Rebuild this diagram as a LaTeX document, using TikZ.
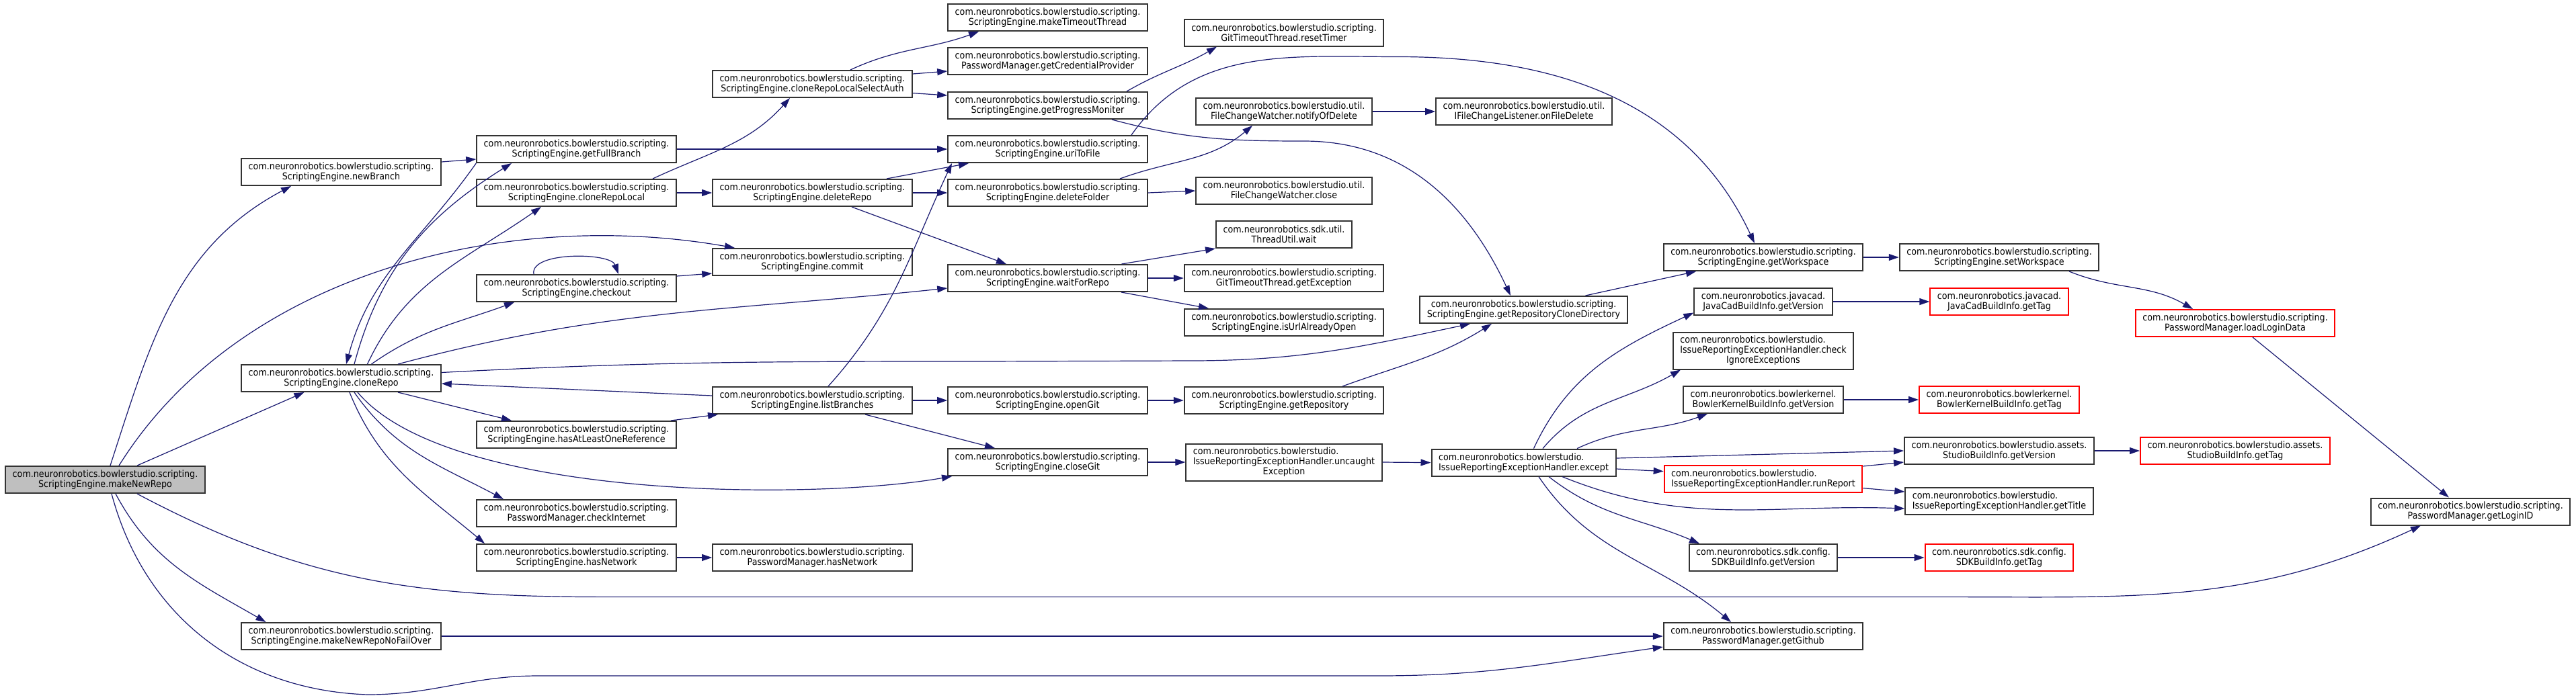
\documentclass[tikz,border=0pt]{standalone}
\usepackage{fontspec}
\setmainfont{DejaVu Sans}[FakeStretch=0.9]
\usetikzlibrary{arrows.meta}
\definecolor{edgeblue}{HTML}{191970}
\definecolor{rootgray}{HTML}{BFBFBF}

\begin{document}
\begin{tikzpicture}[>={Triangle[length=0.15cm,width=0.10cm]},
  box/.style={draw=black!80,line width=0.02cm,fill=white,align=center,inner xsep=0.105cm,inner ysep=0.04cm,minimum height=0.40cm,font=\fontsize{4.02}{4.27}\selectfont},
  redbox/.style={box,draw=red},
  rootbox/.style={box,fill=rootgray},
  call/.style={->,draw=edgeblue,line width=0.012cm}]
\useasboundingbox (0,0) rectangle (38.32,-10.41);
% column 1 and 2
\node[rootbox] (mnr) at (1.565,-7.14) {com.neuronrobotics.bowlerstudio.scripting.\\ScriptingEngine.makeNewRepo};
\node[box] (nb) at (5.075,-2.56) {com.neuronrobotics.bowlerstudio.scripting.\\ScriptingEngine.newBranch};
\node[box] (cr) at (5.075,-5.63) {com.neuronrobotics.bowlerstudio.scripting.\\ScriptingEngine.cloneRepo};
\node[box] (mnrnfo) at (5.075,-9.47) {com.neuronrobotics.bowlerstudio.scripting.\\ScriptingEngine.makeNewRepoNoFailOver};
% column 3
\node[box] (gfb) at (8.575,-2.22) {com.neuronrobotics.bowlerstudio.scripting.\\ScriptingEngine.getFullBranch};
\node[box] (crl) at (8.575,-2.87) {com.neuronrobotics.bowlerstudio.scripting.\\ScriptingEngine.cloneRepoLocal};
\node[box] (co) at (8.575,-4.29) {com.neuronrobotics.bowlerstudio.scripting.\\ScriptingEngine.checkout};
\node[box] (halor) at (8.575,-6.47) {com.neuronrobotics.bowlerstudio.scripting.\\ScriptingEngine.hasAtLeastOneReference};
\node[box] (ci) at (8.575,-7.64) {com.neuronrobotics.bowlerstudio.scripting.\\PasswordManager.checkInternet};
\node[box] (hn) at (8.575,-8.30) {com.neuronrobotics.bowlerstudio.scripting.\\ScriptingEngine.hasNetwork};
% column 4
\node[box] (crlsa) at (12.085,-1.25) {com.neuronrobotics.bowlerstudio.scripting.\\ScriptingEngine.cloneRepoLocalSelectAuth};
\node[box] (dr) at (12.085,-2.87) {com.neuronrobotics.bowlerstudio.scripting.\\ScriptingEngine.deleteRepo};
\node[box] (cm) at (12.085,-3.90) {com.neuronrobotics.bowlerstudio.scripting.\\ScriptingEngine.commit};
\node[box] (lb) at (12.085,-5.96) {com.neuronrobotics.bowlerstudio.scripting.\\ScriptingEngine.listBranches};
\node[box] (pmhn) at (12.085,-8.30) {com.neuronrobotics.bowlerstudio.scripting.\\PasswordManager.hasNetwork};
% column 5
\node[box] (mtt) at (15.585,-0.26) {com.neuronrobotics.bowlerstudio.scripting.\\ScriptingEngine.makeTimeoutThread};
\node[box] (gcp) at (15.585,-0.91) {com.neuronrobotics.bowlerstudio.scripting.\\PasswordManager.getCredentialProvider};
\node[box] (gpm) at (15.585,-1.57) {com.neuronrobotics.bowlerstudio.scripting.\\ScriptingEngine.getProgressMoniter};
\node[box] (utf) at (15.585,-2.22) {com.neuronrobotics.bowlerstudio.scripting.\\ScriptingEngine.uriToFile};
\node[box] (df) at (15.585,-2.87) {com.neuronrobotics.bowlerstudio.scripting.\\ScriptingEngine.deleteFolder};
\node[box] (wfr) at (15.585,-4.14) {com.neuronrobotics.bowlerstudio.scripting.\\ScriptingEngine.waitForRepo};
\node[box] (og) at (15.585,-5.96) {com.neuronrobotics.bowlerstudio.scripting.\\ScriptingEngine.openGit};
\node[box] (cg) at (15.585,-6.88) {com.neuronrobotics.bowlerstudio.scripting.\\ScriptingEngine.closeGit};
% column 6
\node[box] (rt) at (19.10,-0.486) {com.neuronrobotics.bowlerstudio.scripting.\\GitTimeoutThread.resetTimer};
\node[box] (nod) at (19.10,-1.66) {com.neuronrobotics.bowlerstudio.util.\\FileChangeWatcher.notifyOfDelete};
\node[box] (fcwc) at (19.10,-2.84) {com.neuronrobotics.bowlerstudio.util.\\FileChangeWatcher.close};
\node[box] (tuw) at (19.10,-3.49) {com.neuronrobotics.sdk.util.\\ThreadUtil.wait};
\node[box] (gte) at (19.10,-4.14) {com.neuronrobotics.bowlerstudio.scripting.\\GitTimeoutThread.getException};
\node[box] (iuao) at (19.10,-4.80) {com.neuronrobotics.bowlerstudio.scripting.\\ScriptingEngine.isUrlAlreadyOpen};
\node[box] (gr) at (19.10,-5.96) {com.neuronrobotics.bowlerstudio.scripting.\\ScriptingEngine.getRepository};
\node[box,align=left,minimum height=0.55cm] (ue) at (19.10,-6.88) {com.neuronrobotics.bowlerstudio.\\IssueReportingExceptionHandler.uncaught\\\hfill Exception\hfill\mbox{}};
% column 7
\node[box] (ofd) at (22.67,-1.66) {com.neuronrobotics.bowlerstudio.util.\\IFileChangeListener.onFileDelete};
\node[box] (grcd) at (22.665,-4.61) {com.neuronrobotics.bowlerstudio.scripting.\\ScriptingEngine.getRepositoryCloneDirectory};
\node[box,align=left] (exc) at (22.665,-6.886) {com.neuronrobotics.bowlerstudio.\\IssueReportingExceptionHandler.except};
% column 8
\node[box] (gw) at (26.23,-3.83) {com.neuronrobotics.bowlerstudio.scripting.\\ScriptingEngine.getWorkspace};
\node[box] (jcv) at (26.23,-4.49) {com.neuronrobotics.javacad.\\JavaCadBuildInfo.getVersion};
\node[box,align=left,minimum height=0.55cm] (cie) at (26.23,-5.22) {com.neuronrobotics.bowlerstudio.\\IssueReportingExceptionHandler.check\\\hfill IgnoreExceptions\hfill\mbox{}};
\node[box] (bkv) at (26.23,-5.95) {com.neuronrobotics.bowlerkernel.\\BowlerKernelBuildInfo.getVersion};
\node[redbox,align=left] (rr) at (26.23,-7.126) {com.neuronrobotics.bowlerstudio.\\IssueReportingExceptionHandler.runReport};
\node[box] (sdkv) at (26.23,-8.30) {com.neuronrobotics.sdk.config.\\SDKBuildInfo.getVersion};
\node[box] (gg) at (26.23,-9.47) {com.neuronrobotics.bowlerstudio.scripting.\\PasswordManager.getGithub};
% column 9 and beyond
\node[box] (sw) at (29.74,-3.83) {com.neuronrobotics.bowlerstudio.scripting.\\ScriptingEngine.setWorkspace};
\node[redbox] (jct) at (29.74,-4.49) {com.neuronrobotics.javacad.\\JavaCadBuildInfo.getTag};
\node[redbox] (bkt) at (29.74,-5.95) {com.neuronrobotics.bowlerkernel.\\BowlerKernelBuildInfo.getTag};
\node[box] (sbv) at (29.74,-6.71) {com.neuronrobotics.bowlerstudio.assets.\\StudioBuildInfo.getVersion};
\node[box,align=left] (gt) at (29.74,-7.46) {com.neuronrobotics.bowlerstudio.\\IssueReportingExceptionHandler.getTitle};
\node[redbox] (sdkt) at (29.74,-8.30) {com.neuronrobotics.sdk.config.\\SDKBuildInfo.getTag};
\node[redbox] (lld) at (33.25,-4.81) {com.neuronrobotics.bowlerstudio.scripting.\\PasswordManager.loadLoginData};
\node[redbox] (sbt) at (33.25,-6.71) {com.neuronrobotics.bowlerstudio.assets.\\StudioBuildInfo.getTag};
\node[box] (gli) at (36.75,-7.615) {com.neuronrobotics.bowlerstudio.scripting.\\PasswordManager.getLoginID};
% calls from makeNewRepo
\draw[call] ([xshift=0.075cm]mnr.north) to[out=72,in=208] ([xshift=-0.745cm]nb.south);
\draw[call] ([xshift=0.475cm]mnr.north) -- ([xshift=-0.55cm]cr.south);
\draw[call] ([xshift=0.205cm]mnr.north) to[out=58,in=170,looseness=0.9] ([xshift=-1.155cm]cm.north);
\draw[call] ([xshift=0.155cm]mnr.south) to[out=-62,in=150] ([xshift=-1.12cm]mnrnfo.north);
\draw[call] ([xshift=0.475cm]mnr.south) to[out=-28,in=180] (9.0,-8.886) -- (29.0,-8.886) to[out=0,in=205] ([xshift=-0.74cm]gli.south);
\draw[call] ([xshift=0.095cm]mnr.south) to[out=-75,in=178] (5.47,-10.34) to[out=0,in=180] (8.0,-10.06) -- (20.5,-10.06) to[out=0,in=188] ([yshift=-0.16cm]gg.west);
\draw[call] (mnrnfo.east) -- (gg.west);
\draw[call] ([yshift=0.15cm]nb.east) -- ([yshift=-0.15cm]gfb.west);
% calls from cloneRepo
\draw[call] ([xshift=0.195cm]cr.north) to[out=75,in=212] ([xshift=-0.965cm]gfb.south);
\draw[call] (gfb.south west) to[out=-125,in=75] ([xshift=0.075cm]cr.north);
\draw[call] ([xshift=0.39cm]cr.north) to[out=65,in=215] ([xshift=-0.525cm]crl.south);
\draw[call] ([xshift=0.45cm]cr.north) to[out=35,in=200] ([xshift=-0.925cm]co.south);
\draw[call] ([xshift=0.845cm]cr.north) to[out=15,in=186] ([yshift=-0.15cm]wfr.west);
\draw[call] ([yshift=0.085cm]cr.east) to[out=3,in=180] (14.6,-5.38) -- (17.7,-5.37) to[out=0,in=192] ([xshift=-0.795cm]grcd.south);
\draw[call] ([yshift=0.07cm]lb.west) -- ([yshift=-0.08cm]cr.east);
\draw[call] ([xshift=0.845cm]cr.south) -- ([xshift=-0.965cm]halor.north);
\draw[call] ([xshift=0.245cm]cr.south) to[out=-50,in=190,looseness=0.6] ([xshift=-1.425cm]cg.south);
\draw[call] ([xshift=0.195cm]cr.south) to[out=-55,in=152] ([xshift=-1.085cm]ci.north);
\draw[call] ([xshift=0.125cm]cr.south) to[out=-68,in=140] ([xshift=-1.365cm]hn.north);
% middle columns
\draw[call] (gfb.east) -- (utf.west);
\draw[call] ([xshift=1.135cm]crl.north) to[out=25,in=228] ([xshift=-0.335cm]crlsa.south);
\draw[call] (crl.east) -- (dr.west);
\draw[call] ([xshift=0.565cm]crlsa.north) to[out=25,in=200] ([xshift=-1.025cm]mtt.south);
\draw[call] ([yshift=0.15cm]crlsa.east) -- ([yshift=-0.15cm]gcp.west);
\draw[call] ([yshift=-0.136cm]crlsa.east) -- ([yshift=0.15cm]gpm.west);
\draw[call] ([xshift=1.175cm]gpm.north) to[out=30,in=210] ([xshift=-1.0cm]rt.south);
\draw[call] ([xshift=0.955cm]gpm.south) to[out=-15,in=180] (19.4,-2.10) to[out=0,in=115] ([xshift=-0.195cm]grcd.north);
\draw[call] ([xshift=1.245cm]utf.north) to[out=55,in=180] (20.8,-0.845) to[out=0,in=115] ([xshift=-0.13cm]gw.north);
\draw[call] ([xshift=1.105cm]dr.north) -- ([xshift=-1.175cm]utf.south);
\draw[call] (dr.east) -- (df.west);
\draw[call] ([xshift=0.585cm]dr.south) -- ([xshift=-0.615cm]wfr.north);
\draw[call] ([xshift=1.075cm]df.north) to[out=20,in=220] ([xshift=-0.47cm]nod.south);
\draw[call] (df.east) -- (fcwc.west);
\draw[call] (nod.east) -- (ofd.west);
\draw[call] ([xshift=1.10cm]wfr.north) -- (tuw.south west);
\draw[call] (wfr.east) -- (gte.west);
\draw[call] ([xshift=1.095cm]wfr.south) -- ([xshift=-1.12cm]iuao.north);
\draw[call] ([xshift=-0.635cm]co.north) to[out=100,in=110,looseness=0.7] ([xshift=0.625cm]co.north);
\draw[call] ([yshift=0.18cm]co.east) -- ([yshift=-0.17cm]cm.west);
\draw[call] (lb.east) -- (og.west);
\draw[call] ([xshift=0.785cm]lb.south) -- ([xshift=-0.785cm]cg.north);
\draw[call] ([xshift=0.235cm]lb.north) to[out=48,in=245] ([xshift=-1.425cm]utf.south);
\draw[call] ([xshift=1.405cm]halor.north) -- ([xshift=-1.405cm]lb.south);
\draw[call] (hn.east) -- (pmhn.west);
\draw[call] (og.east) -- (gr.west);
\draw[call] ([xshift=0.87cm]gr.north) to[out=20,in=212] ([xshift=-0.475cm]grcd.south);
\draw[call] (cg.east) -- (ue.west);
\draw[call] (ue.east) -- (exc.west);
% right part
\draw[call] ([xshift=0.92cm]grcd.north) -- ([xshift=-1.0cm]gw.south);
\draw[call] (gw.east) -- (sw.west);
\draw[call] ([xshift=1.04cm]sw.south) to[out=-22,in=150] ([xshift=-0.63cm]lld.north);
\draw[call] ([xshift=0.26cm]lld.south) -- ([xshift=-0.32cm]gli.north);
\draw[call] (jcv.east) -- (jct.west);
\draw[call] ([xshift=0.15cm]exc.north) to[out=65,in=205] ([yshift=-0.165cm]jcv.west);
\draw[call] ([xshift=0.285cm]exc.north) to[out=50,in=210] ([xshift=-1.23cm]cie.south);
\draw[call] ([xshift=0.795cm]exc.north) to[out=25,in=200] ([xshift=-0.83cm]bkv.south);
\draw[call] ([yshift=0.066cm]exc.east) -- (sbv.west);
\draw[call] ([yshift=-0.094cm]exc.east) -- ([yshift=0.11cm]rr.west);
\draw[call] ([xshift=0.575cm]exc.south) to[out=-22,in=178] ([yshift=-0.11cm]gt.west);
\draw[call] ([xshift=0.375cm]exc.south) to[out=-38,in=157] ([xshift=-0.95cm]sdkv.north);
\draw[call] ([xshift=0.225cm]exc.south) to[out=-56,in=140] ([xshift=-0.48cm]gg.north);
\draw[call] ([yshift=0.186cm]rr.east) -- ([yshift=-0.17cm]sbv.west);
\draw[call] ([yshift=-0.14cm]rr.east) -- ([yshift=0.14cm]gt.west);
\draw[call] (bkv.east) -- (bkt.west);
\draw[call] (sbv.east) -- (sbt.west);
\draw[call] (sdkv.east) -- (sdkt.west);
\end{tikzpicture}
\end{document}
